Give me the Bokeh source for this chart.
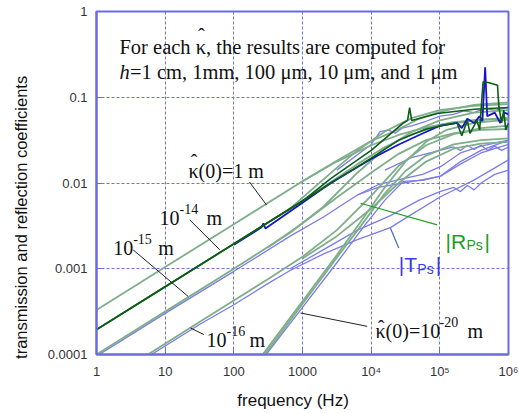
import numpy as np
from bokeh.plotting import figure
from bokeh.models import Label, CustomJSTickFormatter, FixedTicker, Range1d
from bokeh.embed import file_html
from bokeh.resources import INLINE

# ---- data: decade exponents (log10 f, log10 |coef|) ----
# light green |R_Ps| curves
r_1m_a_lf = [0, 1, 2, 3, 3.5, 4, 4.33, 4.7, 5.1, 5.5, 6]
r_1m_a_ly = [-3.48, -2.98, -2.48, -1.98, -1.74, -1.51, -1.40, -1.25, -1.15, -1.09, -1.06]
r_1m_b_lf = [3, 3.5, 4, 4.4, 4.8, 5.2, 5.6, 6]
r_1m_b_ly = [-1.98, -1.75, -1.56, -1.44, -1.35, -1.29, -1.26, -1.25]
r_14_a_lf = [0, 1, 2, 2.8, 3.46, 3.8, 4.2, 4.6, 5, 5.5, 6]
r_14_a_ly = [-3.71, -3.21, -2.71, -2.31, -1.85, -1.62, -1.40, -1.24, -1.15, -1.10, -1.08]
r_14_b_lf = [2.8, 3.3, 3.8, 4.2, 4.6, 5, 5.5, 6]
r_14_b_ly = [-2.31, -2.05, -1.78, -1.58, -1.43, -1.33, -1.27, -1.24]
r_15_a_lf = [0, 1, 2, 2.82, 3.3, 3.8, 4.2, 4.6, 5, 5.5, 6]
r_15_a_ly = [-4.0, -3.5, -3.0, -2.58, -2.28, -1.88, -1.60, -1.40, -1.27, -1.18, -1.15]
r_15_b_lf = [2.5, 3, 3.5, 4, 4.4, 4.8, 5.2, 5.6, 6]
r_15_b_ly = [-2.75, -2.47, -2.17, -1.88, -1.66, -1.50, -1.42, -1.38, -1.37]
r_16_a_lf = [0.75, 1.5, 2, 2.5, 3, 3.5, 4, 4.4, 4.8, 5.2, 5.6, 6]
r_16_a_ly = [-4.0, -3.62, -3.37, -3.12, -2.86, -2.55, -2.15, -1.80, -1.56, -1.43, -1.36, -1.33]
r_16_b_lf = [3, 3.5, 4, 4.4, 4.8, 5.2, 5.6, 6]
r_16_b_ly = [-2.88, -2.62, -2.30, -2.00, -1.75, -1.60, -1.54, -1.52]
r_20_a_lf = [2.42, 3, 3.5, 3.85, 4.2, 4.5, 4.8, 5.1, 5.5, 6]
r_20_a_ly = [-4.0, -3.38, -2.84, -2.45, -2.05, -1.75, -1.52, -1.38, -1.30, -1.26]
r_20_b_lf = [2.45, 3, 3.5, 3.85, 4.2, 4.5, 4.8, 5.2, 5.6, 6]
r_20_b_ly = [-4.0, -3.41, -2.87, -2.50, -2.12, -1.86, -1.68, -1.55, -1.50, -1.48]

# light blue |T_Ps| curves
t_15_a_lf = [0, 1, 2, 2.82, 3.3, 3.8, 4.1, 4.47, 4.75, 5.01, 5.3, 5.6, 6]
t_15_a_ly = [-4.02, -3.52, -3.03, -2.62, -2.40, -2.14, -2.02, -1.95, -1.90, -1.81, -1.65, -1.57, -1.50]
t_15_b_lf = [3.8, 4.1, 4.47, 4.75, 5.01, 5.3, 5.6, 6]
t_15_b_ly = [-2.14, -2.05, -2.00, -1.96, -1.92, -1.78, -1.65, -1.55]
t_16_a_lf = [0.8, 1.5, 2, 2.5, 2.82, 3.3, 3.8, 4.28, 4.6, 5.01, 5.49, 6]
t_16_a_ly = [-4.0, -3.65, -3.42, -3.17, -3.02, -2.83, -2.66, -2.52, -2.36, -2.16, -1.97, -1.73]
t_16_b_lf = [2.82, 3.3, 3.8, 4.28, 4.7, 5.0, 5.2, 5.3, 5.4, 5.5, 5.6, 5.8, 6]
t_16_b_ly = [-3.0, -2.78, -2.55, -2.38, -2.20, -2.10, -2.05, -2.10, -2.03, -2.08, -2.00, -1.90, -1.85]
t_20_lf = [2.47, 3, 3.5, 3.9, 4.2, 4.47, 4.75, 5.01, 5.3, 5.6, 6]
t_20_ly = [-4.0, -3.45, -2.93, -2.50, -2.20, -1.98, -1.97, -1.92, -1.75, -1.62, -1.50]
t_top_lf = [3.5, 4, 4.13, 4.25, 4.35, 4.45, 4.6, 4.8, 5, 5.2, 5.35, 5.5, 5.65, 5.8, 6]
t_top_ly = [-1.85, -1.55, -1.40, -1.38, -1.42, -1.36, -1.33, -1.28, -1.22, -1.20, -1.16, -1.18, -1.13, -1.15, -1.12]
t_mid_lf = [4.2, 4.6, 5, 5.2, 5.3, 5.4, 5.5, 5.6, 5.7, 5.8, 5.9, 6]
t_mid_ly = [-1.85, -1.70, -1.62, -1.58, -1.62, -1.56, -1.61, -1.56, -1.62, -1.57, -1.62, -1.58]

# highlighted dark curves (kappa = 1e-14 m)
dg_a_lf = [0, 1, 2, 3, 3.41, 4, 4.47, 4.53, 4.56, 4.59, 4.96, 5.5, 6]
dg_a_ly = [-3.71, -3.21, -2.71, -2.21, -1.95, -1.62, -1.30, -1.27, -1.12, -1.27, -1.19, -1.14, -1.12]
dg_b_lf = [0, 1, 2, 3, 3.5, 4, 4.4, 4.8, 5.1, 5.25, 5.32, 5.4, 5.44, 5.54, 5.58, 5.63, 5.72,
           5.84, 5.86, 5.9, 5.93, 5.96, 6]
dg_b_ly = [-3.71, -3.21, -2.71, -2.21, -1.96, -1.71, -1.50, -1.37, -1.32, -1.30, -1.45, -1.27, -1.42,
           -1.27, -1.38, -0.82, -0.83, -0.86, -1.11, -1.30, -1.15, -1.38, -1.30]
db_lf = [2, 2.4, 2.43, 2.46, 3, 3.41, 4, 4.38, 4.7, 5.01, 5.25, 5.32, 5.4, 5.5, 5.58, 5.62, 5.66,
         5.69, 5.8, 5.88, 5.94, 6]
db_ly = [-2.72, -2.52, -2.47, -2.53, -2.23, -2.0, -1.72, -1.56, -1.44, -1.33, -1.30, -1.36, -1.25,
         -1.30, -1.22, -1.28, -0.65, -1.22, -1.18, -1.30, -1.18, -1.20]

x_ticks = [1, 10, 100, 1000, 1e4, 1e5, 1e6]
y_ticks = [1e-4, 1e-3, 1e-2, 1e-1, 1]

LG = "#7fae8a"
LB = "#7c7cea"
DG = "#0b5e16"
DB = "#1414d0"
AX = "#6a6ae4"
NB = "\u00a0"

p = figure(width=518, height=412, x_axis_type="log", y_axis_type="log",
           x_range=Range1d(1, 1e6), y_range=Range1d(1e-4, 1),
           output_backend="svg", toolbar_location=None,
           min_border_left=96, min_border_right=10, min_border_top=11, min_border_bottom=57)
p.background_fill_color = "white"
p.border_fill_color = "white"
p.outline_line_color = AX
p.outline_line_width = 2

p.xaxis.ticker = FixedTicker(ticks=x_ticks)
p.yaxis.ticker = FixedTicker(ticks=y_ticks)
p.xaxis.formatter = CustomJSTickFormatter(code="""
const e = Math.round(Math.log10(tick));
const sup = {4: '\u2074', 5: '\u2075', 6: '\u2076'};
return e <= 3 ? String(Math.round(Math.pow(10, e))) : '10' + sup[e];
""")
p.yaxis.formatter = CustomJSTickFormatter(code="""
const e = Math.round(Math.log10(tick));
if (e >= 0) return '1';
return '0.' + '0'.repeat(-e - 1) + '1';
""")
for ax in (p.xaxis, p.yaxis):
    ax.axis_line_color = AX
    ax.axis_line_width = 2
    ax.major_tick_line_color = AX
    ax.major_tick_in = 6
    ax.major_tick_out = 0
    ax.minor_tick_line_color = None
    ax.major_label_text_font = "Liberation Sans"
    ax.major_label_text_font_size = "13px"
    ax.major_label_text_color = "#333333"
    ax.axis_label_text_font = "Liberation Sans"
    ax.axis_label_text_font_style = "normal"
    ax.axis_label_text_color = "#111111"
p.xaxis.major_label_standoff = 9
p.yaxis.major_label_standoff = 9
# trailing no-break spaces shift the centred titles to where the reference has them
p.xaxis.axis_label = "frequency (Hz)" + NB * 4
p.xaxis.axis_label_text_font_size = "17px"
p.xaxis.axis_label_standoff = 9
p.yaxis.axis_label = "transmission and reflection coefficients" + NB * 15
p.yaxis.axis_label_text_font_size = "16.5px"
p.yaxis.axis_label_standoff = 15

for g in (p.xgrid, p.ygrid):
    g.grid_line_color = "#7070ee"
    g.grid_line_dash = "3 2"
    g.grid_line_width = 1

light_green = [(r_1m_a_lf, r_1m_a_ly), (r_1m_b_lf, r_1m_b_ly), (r_14_a_lf, r_14_a_ly),
               (r_14_b_lf, r_14_b_ly), (r_15_a_lf, r_15_a_ly), (r_15_b_lf, r_15_b_ly),
               (r_16_a_lf, r_16_a_ly), (r_16_b_lf, r_16_b_ly), (r_20_a_lf, r_20_a_ly),
               (r_20_b_lf, r_20_b_ly)]
light_blue = [(t_15_a_lf, t_15_a_ly), (t_15_b_lf, t_15_b_ly), (t_16_a_lf, t_16_a_ly),
              (t_16_b_lf, t_16_b_ly), (t_20_lf, t_20_ly), (t_top_lf, t_top_ly),
              (t_mid_lf, t_mid_ly)]

for lf, ly in light_blue:
    p.line(10 ** np.array(lf), 10 ** np.array(ly), line_color=LB, line_width=1.3)
for lf, ly in light_green:
    p.line(10 ** np.array(lf), 10 ** np.array(ly), line_color=LG, line_width=1.8)
p.line(10 ** np.array(db_lf), 10 ** np.array(db_ly), line_color=DB, line_width=1.8)
p.line(10 ** np.array(dg_a_lf), 10 ** np.array(dg_a_ly), line_color=DG, line_width=1.6)
p.line(10 ** np.array(dg_b_lf), 10 ** np.array(dg_b_ly), line_color=DG, line_width=1.6)

# ---- annotation pointer lines (data coords) ----
ptr_x0 = [169, 22.8, 3.42, 23.4, 935]
ptr_y0 = [0.01027, 0.00371, 0.00166, 2.04e-4, 3.05e-4]
ptr_x1 = [299, 62.5, 21.6, 36.5, 8750]
ptr_y1 = [0.00555, 0.00166, 4.76e-4, 1.71e-4, 2.13e-4]
p.segment(ptr_x0, ptr_y0, ptr_x1, ptr_y1, line_color="#222222", line_width=1)
p.segment([6995], [0.00581], [91600], [0.00325], line_color="#22a022", line_width=1.2)
p.segment([19120], [0.00297], [25250], [0.00174], line_color="#3a6aa8", line_width=1.2)


def lab(x, y, text, size=20, font="Liberation Serif", style="normal", color="#111111",
        dx=0, dy=0, align="left", **kw):
    p.add_layout(Label(x=x, y=y, text=text, text_font=font, text_font_size=f"{size}px",
                       text_font_style=style, text_color=color, x_offset=dx, y_offset=dy,
                       text_align=align, text_baseline="alphabetic", **kw))


# header text
lab(2.16, 0.381, "For each \u03ba, the results are computed for", size=20.5)
lab(2.16, 0.381, "\u02c6", size=20.5, dx=82, dy=11, align="center")
lab(2.16, 0.195, "h", size=20.5, style="italic")
lab(2.16, 0.195, "=1 cm, 1mm, 100 \u03bcm, 10 \u03bcm, and 1 \u03bcm", size=20.5, dx=10.5)

# kappa labels
lab(21.9, 0.0138, "\u03ba(0)=1 m")
lab(21.9, 0.0138, "\u02c6", dx=5.5, dy=9, align="center")
lab(8.27, 0.00392, "10")
lab(8.27, 0.00392, "-14", size=14, dx=20, dy=9)
lab(8.27, 0.00392, "m", dx=47)
lab(1.75, 0.00174, "10")
lab(1.75, 0.00174, "-15", size=14, dx=20, dy=9)
lab(1.75, 0.00174, "m", dx=45)
lab(40.0, 1.47e-4, "10")
lab(40.0, 1.47e-4, "-16", size=14, dx=20, dy=9)
lab(40.0, 1.47e-4, "m", dx=43)
lab(11560, 1.87e-4, "\u03ba(0)=10")
lab(11560, 1.87e-4, "\u02c6", dx=5.5, dy=3, align="center")
lab(11560, 1.87e-4, "-20", size=14, dx=64, dy=9)
lab(11560, 1.87e-4, "m", dx=92)

# |R_Ps| and |T_Ps|
RC = "#1f9c1f"
TC = "#3c3ce6"
lab(1.21e5, 0.00208, "|R", size=21, font="Liberation Sans", color=RC)
lab(1.21e5, 0.00208, "Ps", size=14, font="Liberation Sans", color=RC, dx=21, dy=-4)
lab(1.21e5, 0.00208, "|", size=21, font="Liberation Sans", color=RC, dx=39)
lab(25250, 0.00111, "|T", size=21, font="Liberation Sans", color=TC)
lab(25250, 0.00111, "Ps", size=14, font="Liberation Sans", color=TC, dx=18.5, dy=-4)
lab(25250, 0.00111, "|", size=21, font="Liberation Sans", color=TC, dx=37)

open("out.html", "w").write(file_html(p, INLINE))
